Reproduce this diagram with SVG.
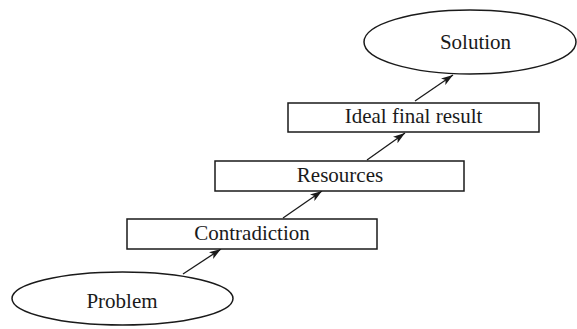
<svg xmlns="http://www.w3.org/2000/svg" width="577" height="329" viewBox="0 0 577 329">
  <style>
    .shape { fill: #fff; stroke: #1a1a1a; stroke-width: 1.5; }
    .label { font-family: "Liberation Serif", "Times New Roman", serif; font-size: 21px; fill: #1a1a1a; text-anchor: middle; }
    .link { stroke: #1a1a1a; stroke-width: 1.3; fill: none; marker-end: url(#arrow); }
  </style>
  <defs>
    <marker id="arrow" viewBox="0 0 12 8" refX="12" refY="4" markerWidth="12" markerHeight="8" markerUnits="userSpaceOnUse" orient="auto">
      <path d="M0,0 L12,4 L0,8 L3,4 Z" fill="#1a1a1a"/>
    </marker>
  </defs>

  <g id="connectors">
    <line class="link" x1="183" y1="274" x2="221" y2="249"/>
    <line class="link" x1="283" y1="218" x2="322" y2="191"/>
    <line class="link" x1="367" y1="160" x2="405" y2="133"/>
    <line class="link" x1="415" y1="101" x2="453" y2="75"/>
  </g>

  <g id="problem">
    <ellipse class="shape" cx="122.5" cy="298.5" rx="110.5" ry="26.5"/>
    <text class="label" x="122" y="308">Problem</text>
  </g>

  <g id="contradiction">
    <rect class="shape" x="127" y="219" width="250" height="30"/>
    <text class="label" x="252" y="240">Contradiction</text>
  </g>

  <g id="resources">
    <rect class="shape" x="215" y="161" width="249" height="30"/>
    <text class="label" x="340" y="182">Resources</text>
  </g>

  <g id="ideal-final-result">
    <rect class="shape" x="288" y="103" width="251" height="29"/>
    <text class="label" x="413.5" y="123">Ideal final result</text>
  </g>

  <g id="solution">
    <ellipse class="shape" cx="470" cy="42" rx="106" ry="32"/>
    <text class="label" x="475.5" y="49">Solution</text>
  </g>
</svg>
